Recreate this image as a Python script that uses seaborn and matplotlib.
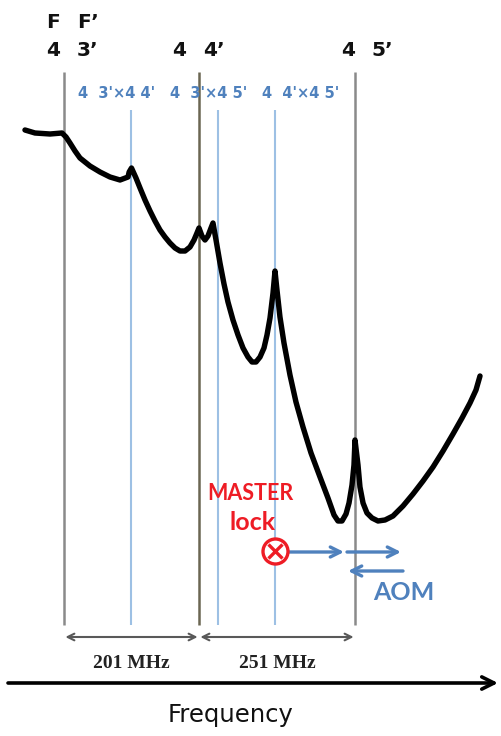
import numpy as np
import pandas as pd
import matplotlib
matplotlib.use("Agg")
import matplotlib.pyplot as plt
import seaborn as sns

# Cs D2 line, F=4 -> F' hyperfine transitions (MHz, relative to F'=3)
transition_labels = ["3’", "4’", "5’"]
transition_freq = [0.0, 201.0, 452.0]
# crossover resonances (midpoints between pairs of transitions)
crossover_pairs = [("3'", "4'"), ("3'", "5'"), ("4'", "5'")]
crossover_freq = [100.5, 226.0, 326.5]
spacing_labels = ["201 MHz", "251 MHz"]

# saturated-absorption trace: frequency (MHz) and photodiode signal (a.u.)
trace_freq = [-58.1, -43.2, -20.8, -3.0, 3.0, 8.9, 16.4, 23.8, 38.7, 53.6,
              68.5, 83.4, 95.3, 97.0, 100.5,
              107.2, 113.2, 120.6, 128.1, 135.5, 142.9, 150.4, 157.8, 165.3, 172.7,
              180.2, 187.6, 193.6, 198.0, 201.0,
              204.9, 208.9, 212.8, 216.8, 219.4,
              223.4, 229.5, 236.6, 243.6, 252.4, 261.3, 270.1, 278.9, 286.0, 293.0,
              300.1, 307.1, 312.4, 317.7, 323.0, 326.5,
              329.6, 334.3, 340.6, 350.0, 359.4, 370.4, 383.0, 397.1, 409.6, 419.1,
              425.3, 431.6, 437.9, 442.6, 447.3, 450.4, 452.0,
              456.7, 459.8, 464.6, 470.8, 478.7, 488.1, 499.1, 511.6, 527.3, 543.0,
              558.7, 574.4, 590.1, 605.7, 619.9, 632.4, 641.8, 648.1]
trace_signal = [6.06, 6.03, 6.02, 6.03, 5.99, 5.93, 5.85, 5.78, 5.70, 5.64,
                5.59, 5.56, 5.59, 5.64, 5.68,
                5.58, 5.48, 5.36, 5.25, 5.15, 5.06, 4.99, 4.93, 4.88, 4.85,
                4.85, 4.89, 4.96, 5.03, 5.08,
                5.00, 4.96, 5.00, 5.08, 5.13,
                4.96, 4.73, 4.52, 4.34, 4.16, 4.01, 3.88, 3.79, 3.74, 3.74,
                3.79, 3.88, 4.01, 4.18, 4.43, 4.65,
                4.46, 4.19, 3.93, 3.61, 3.34, 3.09, 2.83, 2.59, 2.38, 2.21,
                2.15, 2.15, 2.22, 2.33, 2.51, 2.71, 2.96,
                2.71, 2.49, 2.33, 2.23, 2.18, 2.15, 2.16, 2.20, 2.30, 2.42,
                2.55, 2.69, 2.85, 3.02, 3.18, 3.33, 3.46, 3.60]

W, H = 502, 736

# schematic (non-linear) frequency axis: each resonance placed at its own column
_f_anchor = np.array([0.0, 201.0, 226.0, 326.5, 452.0])
_d_anchor = np.array([64.0, 199.0, 218.0, 275.0, 355.0])
_lo_slope = (_d_anchor[1] - _d_anchor[0]) / (_f_anchor[1] - _f_anchor[0])
_hi_slope = (_d_anchor[-1] - _d_anchor[-2]) / (_f_anchor[-1] - _f_anchor[-2])


def fwd(f):
    f = np.asarray(f, dtype=float)
    out = np.interp(f, _f_anchor, _d_anchor)
    out = np.where(f < _f_anchor[0], _d_anchor[0] + (f - _f_anchor[0]) * _lo_slope, out)
    out = np.where(f > _f_anchor[-1], _d_anchor[-1] + (f - _f_anchor[-1]) * _hi_slope, out)
    return out


def inv(d):
    d = np.asarray(d, dtype=float)
    out = np.interp(d, _d_anchor, _f_anchor)
    out = np.where(d < _d_anchor[0], _f_anchor[0] + (d - _d_anchor[0]) / _lo_slope, out)
    out = np.where(d > _d_anchor[-1], _f_anchor[-1] + (d - _d_anchor[-1]) / _hi_slope, out)
    return out


def xv(xpx):
    return float(inv(xpx))


def yv(ypx):
    return (H - ypx) / 100.0


sns.set_theme(style="white")
plt.rcParams["font.family"] = ["Lato", "DejaVu Sans"]

fig = plt.figure(figsize=(W / 100, H / 100), dpi=100)
ax = fig.add_axes([0, 0, 1, 1])
ax.set_xscale("function", functions=(fwd, inv))
ax.set_xlim(xv(0), xv(W))
ax.set_ylim(0, H / 100)
ax.axis("off")

# transition and crossover markers
ax.vlines(transition_freq, yv(625), yv(72), colors=["#8a8a8a", "#6b6652", "#8a8a8a"], lw=1.8, zorder=1)
ax.vlines(crossover_freq, yv(625), yv(110), colors="#9dc0e4", lw=1.5, zorder=1)

# spectrum
df = pd.DataFrame({"freq": trace_freq, "signal": trace_signal})
sns.lineplot(data=df, x="freq", y="signal", color="black", lw=3.9, estimator=None,
             sort=False, ax=ax, zorder=3, solid_joinstyle="round", solid_capstyle="round")
ax.set_xlabel("")
ax.set_ylabel("")

# F / F' header
top_kw = dict(fontsize=14.5, fontweight="bold", color="#111111", ha="center", va="center",
              family=["DejaVu Sans"])
ax.text(xv(53), yv(22), "F", **top_kw)
ax.text(xv(88), yv(22), "F’", **top_kw)
label_offsets = [(-11, 24), (-20, 15), (-7, 27)]
for f, lab, (dl, dr) in zip(transition_freq, transition_labels, label_offsets):
    d = float(fwd(f))
    ax.text(xv(d + dl), yv(50), "4", **top_kw)
    ax.text(xv(d + dr), yv(50), lab, **top_kw)

# crossover header (blue)
for (a, b), xl in zip(crossover_pairs, [78, 170, 262]):
    ax.text(xv(xl), yv(93), f"4  {a}×4 {b}", fontsize=10.5, fontweight="bold",
            family=["DejaVu Sans"], color="#4f81bd", ha="left", va="center")

# spacing dimension arrows
for (f0, f1), lab in zip([(transition_freq[0], transition_freq[1]),
                          (transition_freq[1], transition_freq[2])], spacing_labels):
    ax.annotate("", xy=(f1, yv(637)), xytext=(f0, yv(637)),
                arrowprops=dict(arrowstyle="<->", color="#595959", lw=1.5,
                                shrinkA=1, shrinkB=1, mutation_scale=12))
    mid = xv((fwd(f0) + fwd(f1)) / 2)
    ax.text(mid, yv(663), lab, fontsize=14, fontweight="bold", ha="center", va="center",
            family=["Liberation Serif", "DejaVu Serif"], color="#222222")

# MASTER lock on the 4'x5' crossover
lock_f = crossover_freq[2]
ax.plot([lock_f], [yv(551)], marker="o", ms=18, mfc="white", mec="#ee1c25", mew=2.4, zorder=5)
ax.plot([lock_f], [yv(551)], marker="x", ms=10, mec="#ee1c25", mew=2.4, zorder=6)
ax.text(xv(250), yv(494), "MASTER", fontsize=15.5, fontweight="bold",
        color="#ee1c25", ha="center", va="center")
ax.text(xv(253), yv(522), "lock", fontsize=18, fontweight="bold",
        color="#ee1c25", ha="center", va="center")

# AOM shifts
blue = "#4f81bd"
akw = dict(arrowstyle="->", color=blue, lw=2.4, mutation_scale=18, shrinkA=0, shrinkB=0)
ax.annotate("", xy=(xv(344), yv(552)), xytext=(xv(289), yv(552)), arrowprops=akw)
ax.annotate("", xy=(xv(401), yv(552)), xytext=(xv(347), yv(552)), arrowprops=akw)
ax.annotate("", xy=(xv(348), yv(571)), xytext=(xv(403), yv(571)), arrowprops=akw)
ax.text(xv(404), yv(593), "AOM", fontsize=18, fontweight="bold", color=blue,
        ha="center", va="center")

# frequency axis
ax.annotate("", xy=(xv(498), yv(683)), xytext=(xv(8), yv(683)),
            arrowprops=dict(arrowstyle="->", color="black", lw=2.6, mutation_scale=22,
                            shrinkA=0, shrinkB=0))
ax.text(xv(231), yv(715), "Frequency", fontsize=17.5, color="#111111",
        family=["DejaVu Sans"], ha="center", va="center")

fig.savefig("out.png", dpi=100)
